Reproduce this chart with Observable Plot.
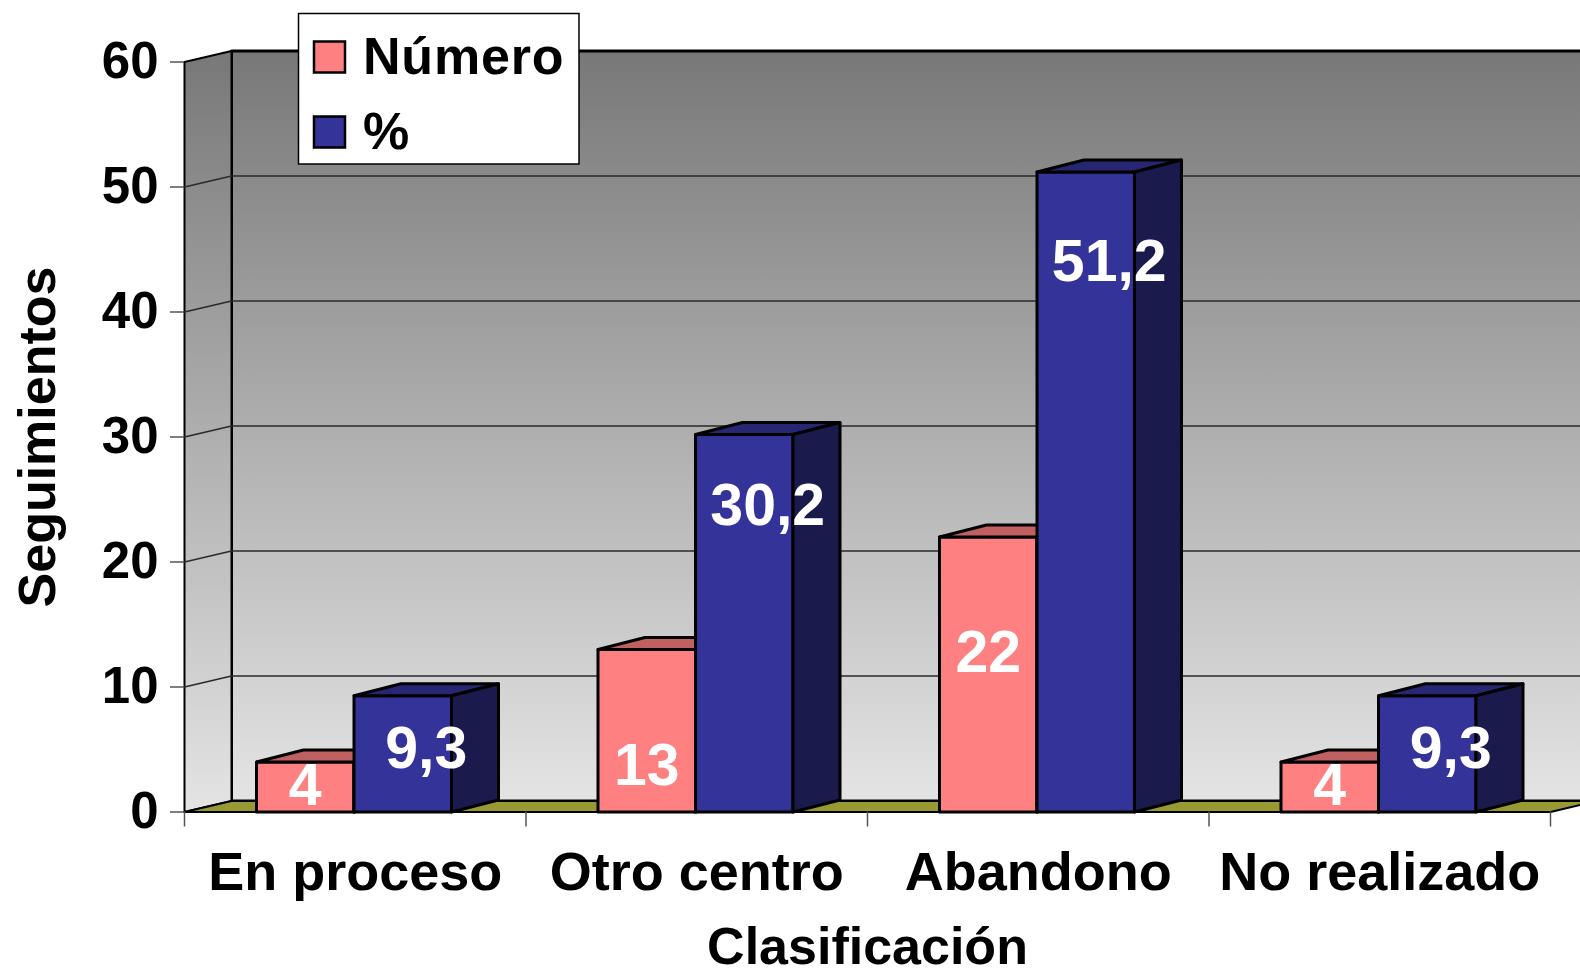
<!DOCTYPE html>
<html><head><meta charset="utf-8">
<script src="https://cdn.jsdelivr.net/npm/d3@7"></script>
<script src="https://cdn.jsdelivr.net/npm/@observablehq/plot@0.6"></script>
<style>
html,body{margin:0;padding:0;background:#fff;overflow:hidden;}
#chart svg{display:block;}
</style></head><body><div id="chart"></div>
<script>
// ---- data ----
const categories = ["En proceso", "Otro centro", "Abandono", "No realizado"];
const series = ["Número", "%"];
const numero = [4, 13, 22, 4];
const porcentaje = [9.3, 30.2, 51.2, 9.3];
const yTicks = [0, 10, 20, 30, 40, 50, 60];
const xTitle = "Clasificación";
const yTitle = "Seguimientos";
const seriesColors = {front: ["#FF8080", "#333399"], top: ["#C06060", "#262673"], side: ["#804040", "#1A1A4D"]};

// ---- layout ----
const W = 1580, H = 975;
const mL = 184, mR = 30, mT = 61.5, mB = 163.5;
const yMax = 60;
const pxX = (W - mL - mR) / categories.length;
const pxY = (H - mT - mB) / yMax;
const wallDX = 47 / pxX, wallDY = 11 / pxY;
const barDX = 47 / pxX, barDY = 12 / pxY;
const barOff = 72 / pxX, barW = 97.5 / pxX;
const n = categories.length;
const fmt = v => String(v).replace(".", ",");

const poly = (id, pts) => pts.map(([x, y]) => ({id, x, y}));

// walls & floor
const leftWall = poly("lw", [[0, 0], [wallDX, wallDY], [wallDX, yMax + wallDY], [0, yMax]]);
const backWall = poly("bw", [[wallDX, wallDY], [n + wallDX, wallDY], [n + wallDX, yMax + wallDY], [wallDX, yMax + wallDY]]);
const floor = poly("fl", [[0, 0], [wallDX, wallDY], [n + wallDX, wallDY], [n, 0]]);
const grid = yTicks.filter(v => v > 0 && v < yMax).flatMap(v =>
  poly("g" + v, [[0, v], [wallDX, v + wallDY], [n + wallDX, v + wallDY]]));

// bars
const values = [numero, porcentaje];
const faces = {front: [[], []], top: [[], []], side: [[], []]};
const labels = [];
values.forEach((vals, s) => {
  vals.forEach((v, i) => {
    const x0 = i + barOff + s * barW, x1 = x0 + barW;
    faces.front[s].push(...poly(`f${s}${i}`, [[x0, 0], [x1, 0], [x1, v], [x0, v]]));
    faces.top[s].push(...poly(`t${s}${i}`, [[x0, v], [x1, v], [x1 + barDX, v + barDY], [x0 + barDX, v + barDY]]));
    faces.side[s].push(...poly(`s${s}${i}`, [[x1, 0], [x1 + barDX, barDY], [x1 + barDX, v + barDY], [x1, v]]));
    const ly = s === 0 ? Math.max(2.1, v - 9.3) : v - (3.6 + 0.07 * v);
    const lx = s === 0 ? (x0 + x1) / 2 : (x0 + x1) / 2 + barDX / 2;
    labels.push({x: lx, y: ly, text: fmt(v)});
  });
});

const polyMark = (data, fill, strokeWidth = 3) =>
  Plot.line(data, {x: "x", y: "y", z: "id", curve: "linear-closed", fill, stroke: "black", strokeWidth, strokeLinejoin: "round"});

const defs = () => {
  const d = d3.create("svg:defs");
  const g = d.append("linearGradient").attr("id", "wallGrad").attr("x1", 0).attr("y1", 0).attr("x2", 0).attr("y2", 1);
  g.append("stop").attr("offset", 0).attr("stop-color", "#787878");
  g.append("stop").attr("offset", 1).attr("stop-color", "#e4e4e4");
  return d.node();
};

const legend = () => {
  const g = d3.create("svg:g");
  g.append("rect").attr("x", 298.5).attr("y", 13.5).attr("width", 280.5).attr("height", 150.5)
    .attr("fill", "white").attr("stroke", "black").attr("stroke-width", 1.5);
  series.forEach((s, k) => {
    g.append("rect").attr("x", 314).attr("y", 41.5 + 75 * k).attr("width", 31).attr("height", 31)
      .attr("fill", seriesColors.front[k]).attr("stroke", "black").attr("stroke-width", 2.5);
    g.append("text").attr("x", 363).attr("y", 73.5 + 75 * k).attr("font-size", 52).attr("font-weight", "bold")
      .attr("letter-spacing", 0.8).attr("text-anchor", "start").attr("fill", "black").text(s);
  });
  return g.node();
};

const chart = Plot.plot({
  width: W, height: H,
  marginLeft: mL, marginRight: mR, marginTop: mT, marginBottom: mB,
  style: {fontFamily: "'Liberation Sans', Arial, sans-serif", overflow: "hidden", background: "white"},
  x: {type: "linear", domain: [0, n]},
  y: {type: "linear", domain: [0, yMax]},
  marks: [
    defs,
    polyMark(backWall, "url(#wallGrad)", 3),
    polyMark(leftWall, "url(#wallGrad)", 2),
    Plot.line(grid, {x: "x", y: "y", z: "id", stroke: "#2a2a2a", strokeWidth: 1.6}),
    polyMark(floor, "#999933", 2),
    polyMark(faces.front[0], seriesColors.front[0]),
    polyMark(faces.top[0], seriesColors.top[0]),
    polyMark(faces.side[0], seriesColors.side[0]),
    polyMark(faces.front[1], seriesColors.front[1]),
    polyMark(faces.top[1], seriesColors.top[1]),
    polyMark(faces.side[1], seriesColors.side[1]),
    Plot.axisY({ticks: yTicks, tickSize: 14, tickPadding: 12, fontSize: 51, fontWeight: "bold", stroke: "#555", strokeWidth: 1.5, fill: "black", label: null}),
    Plot.axisX({ticks: d3.range(n + 1), tickSize: 15, tickFormat: () => "", stroke: "#555", strokeWidth: 1.5, label: null}),
    Plot.axisX({ticks: d3.range(n).map(i => i + 0.5), tickSize: 0, tickPadding: 40, tickFormat: d => categories[Math.floor(d)], fontSize: 54, fontWeight: "bold", fill: "black", label: null}),
    Plot.text(labels, {x: "x", y: "y", text: "text", fill: "white", fontSize: 59, fontWeight: "bold", lineAnchor: "middle"}),
    Plot.text([xTitle], {frameAnchor: "bottom", dy: 152, lineAnchor: "bottom", fontSize: 52, fontWeight: "bold", fill: "black"}),
    Plot.text([yTitle], {frameAnchor: "left", dx: -146, rotate: -90, textAnchor: "middle", lineAnchor: "middle", fontSize: 52, fontWeight: "bold", fill: "black"}),
    legend
  ]
});
document.getElementById("chart").appendChild(chart);
</script></body></html>
